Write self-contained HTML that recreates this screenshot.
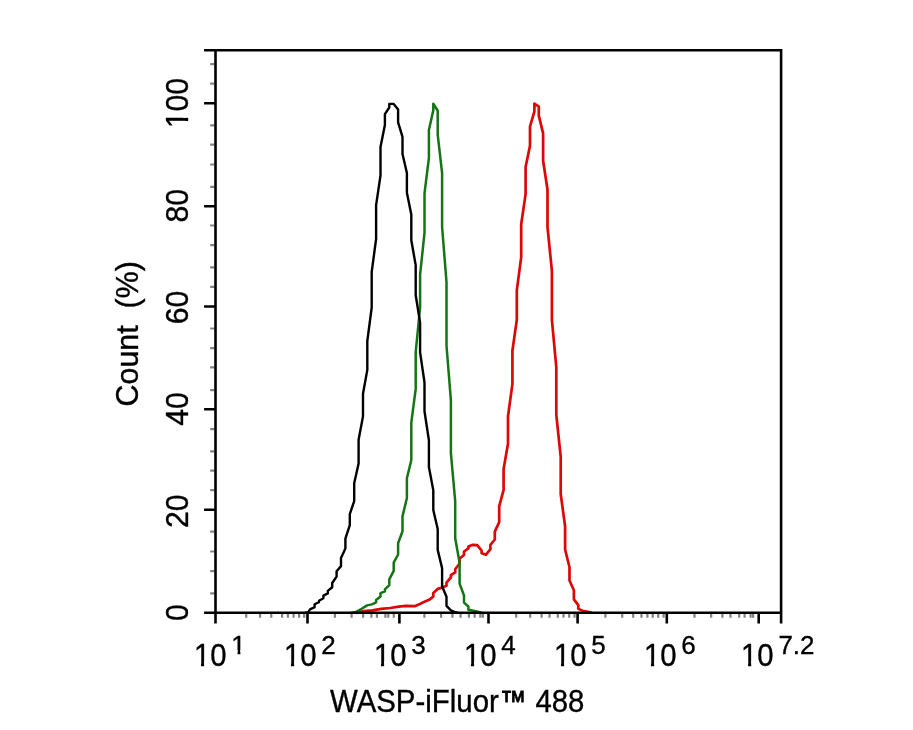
<!DOCTYPE html>
<html><head><meta charset="utf-8"><title>WASP-iFluor 488 histogram</title>
<style>html,body{margin:0;padding:0;background:#fff;width:913px;height:730px;overflow:hidden}svg{display:block;will-change:transform}text{font-family:"Liberation Sans",sans-serif}</style>
</head><body>
<svg width="913" height="730" viewBox="0 0 913 730">
<rect width="913" height="730" fill="#fff"/>
<polyline fill="none" stroke="#dc0808" stroke-width="2.7" stroke-linejoin="round" points="356.0,612.9 363.8,611.0 372.5,610.3 381.3,608.8 390.1,608.0 398.8,606.7 405.8,605.8 414.6,606.2 419.9,604.0 425.1,601.4 429.5,599.6 433.3,596.5 433.3,593.0 437.7,588.9 442.1,587.6 446.5,585.8 446.5,582.6 450.9,577.3 450.9,575.1 455.2,572.4 455.2,569.3 459.6,563.5 459.6,558.5 464.0,555.0 464.0,551.5 468.4,548.4 468.4,546.6 472.8,544.8 477.2,545.2 481.6,550.6 481.6,553.3 486.0,554.6 490.4,549.2 490.4,544.8 494.8,539.5 494.8,531.6 499.2,522.1 499.2,506.3 503.6,489.9 503.6,469.0 508.0,443.7 508.0,416.3 512.4,384.1 512.4,350.8 516.8,319.9 516.8,290.5 521.2,257.1 521.2,224.2 525.6,194.1 525.6,166.9 530.0,145.7 530.0,126.7 534.4,111.4 534.4,103.6 538.8,106.6 538.8,115.6 543.1,133.4 543.1,160.8 547.5,189.5 547.5,227.0 551.9,270.8 551.9,319.9 556.3,367.2 556.3,414.9 560.7,456.7 560.7,494.0 565.1,526.2 565.1,549.5 569.5,567.3 569.5,580.5 573.9,590.3 573.9,599.4 578.3,605.1 578.3,608.8 582.7,610.9 589.3,612.0 591.5,612.8"/>
<polyline fill="none" stroke="#157515" stroke-width="2.5" stroke-linejoin="round" points="351.0,612.9 356.5,611.6 361.6,608.8 367.1,605.4 371.9,604.4 376.1,602.3 376.1,599.9 380.5,596.5 380.5,593.1 384.9,591.4 384.9,589.3 389.3,585.2 389.3,579.4 393.7,570.9 393.7,562.7 398.1,554.5 398.1,543.2 402.5,531.3 402.5,516.4 406.9,498.0 406.9,478.3 411.3,460.0 411.3,422.6 415.7,389.0 415.7,352.0 420.1,307.5 420.1,274.7 424.5,232.9 424.5,193.4 428.9,158.0 428.9,130.0 433.3,110.2 433.3,103.7 437.7,110.5 437.7,134.7 442.1,173.1 442.1,227.0 446.5,282.2 446.5,345.5 450.9,400.3 450.9,453.3 455.2,501.2 455.2,538.2 459.6,562.9 459.6,583.6 464.0,595.5 464.0,602.6 468.4,606.5 468.4,609.7 474.6,611.0 479.8,612.3 482.0,612.8"/>
<polyline fill="none" stroke="#000" stroke-width="2.4" stroke-linejoin="round" points="305.0,612.9 308.2,612.3 310.0,609.3 314.6,607.1 314.6,604.3 319.0,602.1 319.0,600.8 323.4,598.3 323.4,595.6 327.8,593.4 327.8,590.9 332.2,587.3 332.2,583.0 336.6,576.6 336.6,571.3 341.0,566.1 341.0,557.9 345.4,548.6 345.4,538.7 349.8,525.1 349.8,514.1 354.2,501.1 354.2,483.2 358.6,463.5 358.6,439.7 363.0,416.4 363.0,393.8 367.3,369.9 367.3,341.1 371.7,307.5 371.7,271.9 376.1,239.0 376.1,205.1 380.5,175.5 380.5,147.1 384.9,125.0 384.9,114.1 389.3,107.5 389.3,103.9 393.7,103.9 398.1,109.4 398.1,122.3 402.5,136.8 402.5,153.9 406.9,173.1 406.9,192.8 411.3,214.4 411.3,240.3 415.7,265.1 415.7,295.2 420.1,322.6 420.1,352.3 424.5,382.5 424.5,411.2 428.9,440.3 428.9,467.0 433.3,490.3 433.3,510.1 437.7,529.1 437.7,549.9 442.1,568.1 442.1,586.3 446.5,596.7 446.5,605.8 450.9,610.4 455.2,612.3 458.0,612.8"/>
<path d="M246.2 613.9V617.8 M260.1 613.9V617.8 M271.3 613.9V617.8 M282.1 613.9V617.8 M287.9 613.9V617.8 M293.6 613.9V617.8 M299.1 613.9V617.8 M304.2 613.9V617.8 M334.9 613.9V617.8 M351.6 613.9V617.8 M363.1 613.9V617.8 M371.4 613.9V617.8 M376.9 613.9V617.8 M385.4 613.9V617.8 M388.3 613.9V617.8 M393.8 613.9V617.8 M424.4 613.9V617.8 M441.1 613.9V617.8 M452.4 613.9V617.8 M460.6 613.9V617.8 M468.9 613.9V617.8 M474.6 613.9V617.8 M480.3 613.9V617.8 M482.9 613.9V617.8 M516.2 613.9V617.8 M530.2 613.9V617.8 M541.6 613.9V617.8 M549.5 613.9V617.8 M557.8 613.9V617.8 M563.5 613.9V617.8 M569.2 613.9V617.8 M574.5 613.9V617.8 M605.4 613.9V617.8 M622.2 613.9V617.8 M633.2 613.9V617.8 M641.5 613.9V617.8 M647.4 613.9V617.8 M652.7 613.9V617.8 M658.2 613.9V617.8 M663.6 613.9V617.8 M694.5 613.9V617.8 M711.2 613.9V617.8 M722.4 613.9V617.8 M730.5 613.9V617.8 M739.2 613.9V617.8 M744.6 613.9V617.8 M750.6 613.9V617.8 M753.1 613.9V617.8 M210.2 64.1H214.2 M210.2 83.6H214.2 M210.2 125.4H214.2 M210.2 144.7H214.2 M210.2 164.5H214.2 M210.2 186.8H214.2 M210.2 225.5H214.2 M210.2 245.2H214.2 M210.2 267.4H214.2 M210.2 286.8H214.2 M210.2 328.5H214.2 M210.2 348.2H214.2 M210.2 367.4H214.2 M210.2 390.1H214.2 M210.2 429.1H214.2 M210.2 451.3H214.2 M210.2 470.7H214.2 M210.2 490.1H214.2 M210.2 531.7H214.2 M210.2 551.5H214.2 M210.2 571.1H214.2 M210.2 593.4H214.2" stroke="#838383" stroke-width="2.2" fill="none"/>
<path d="M204.1 50.3H781.1 M781.1 49.0V623.6 M204.1 612.7H781.1 M215.5 49.0V623.6" stroke="#000" stroke-width="2.6" fill="none"/>
<path d="M307.5 612.7V623.6 M399.4 612.7V623.6 M488.5 612.7V623.6 M577.6 612.7V623.6 M666.8 612.7V623.6 M758.7 612.7V623.6 M204.1 103.2H215.5 M204.1 206.3H215.5 M204.1 306.5H215.5 M204.1 409.3H215.5 M204.1 509.7H215.5" stroke="#000" stroke-width="2.6" fill="none"/>
<g transform="translate(187.60 103.16) rotate(-90) scale(1 1.02)"><text font-family="Liberation Sans" stroke="#000" stroke-width="0.35" font-size="30.2" text-anchor="middle" x="0" y="0">100</text><rect x="-23.87" y="-4.42" width="5.99" height="6.19" fill="#fff"/><rect x="-14.65" y="-4.42" width="5.82" height="6.19" fill="#fff"/></g>
<g transform="translate(187.60 205.77) rotate(-90) scale(1 1.02)"><text font-family="Liberation Sans" stroke="#000" stroke-width="0.35" font-size="30.2" text-anchor="middle" x="0" y="0">80</text></g>
<g transform="translate(187.60 307.48) rotate(-90) scale(1 1.02)"><text font-family="Liberation Sans" stroke="#000" stroke-width="0.35" font-size="30.2" text-anchor="middle" x="0" y="0">60</text></g>
<g transform="translate(187.60 409.06) rotate(-90) scale(1 1.02)"><text font-family="Liberation Sans" stroke="#000" stroke-width="0.35" font-size="30.2" text-anchor="middle" x="0" y="0">40</text></g>
<g transform="translate(187.60 511.17) rotate(-90) scale(1 1.02)"><text font-family="Liberation Sans" stroke="#000" stroke-width="0.35" font-size="30.2" text-anchor="middle" x="0" y="0">20</text></g>
<g transform="translate(187.60 612.60) rotate(-90) scale(1 1.02)"><text font-family="Liberation Sans" stroke="#000" stroke-width="0.35" font-size="30.2" text-anchor="middle" x="0" y="0">0</text></g>
<g transform="translate(193.88 665.80) scale(1 1.04)"><text font-family="Liberation Sans" stroke="#000" stroke-width="0.35" font-size="29.3" x="0" y="0">10</text><rect x="1.29" y="-4.29" width="5.81" height="6.01" fill="#fff"/><rect x="10.23" y="-4.29" width="5.65" height="6.01" fill="#fff"/></g>
<g transform="translate(231.28 653.90) scale(1 0.99)"><text font-family="Liberation Sans" stroke="#000" stroke-width="0.35" font-size="26.0" x="0" y="0">1</text><rect x="1.14" y="-3.81" width="5.15" height="5.33" fill="#fff"/><rect x="9.08" y="-3.81" width="5.01" height="5.33" fill="#fff"/></g>
<g transform="translate(283.88 665.80) scale(1 1.04)"><text font-family="Liberation Sans" stroke="#000" stroke-width="0.35" font-size="29.3" x="0" y="0">10</text><rect x="1.29" y="-4.29" width="5.81" height="6.01" fill="#fff"/><rect x="10.23" y="-4.29" width="5.65" height="6.01" fill="#fff"/></g>
<g transform="translate(321.28 653.90) scale(1 0.99)"><text font-family="Liberation Sans" stroke="#000" stroke-width="0.35" font-size="26.0" x="0" y="0">2</text></g>
<g transform="translate(373.88 665.80) scale(1 1.04)"><text font-family="Liberation Sans" stroke="#000" stroke-width="0.35" font-size="29.3" x="0" y="0">10</text><rect x="1.29" y="-4.29" width="5.81" height="6.01" fill="#fff"/><rect x="10.23" y="-4.29" width="5.65" height="6.01" fill="#fff"/></g>
<g transform="translate(411.28 653.90) scale(1 0.99)"><text font-family="Liberation Sans" stroke="#000" stroke-width="0.35" font-size="26.0" x="0" y="0">3</text></g>
<g transform="translate(463.88 665.80) scale(1 1.04)"><text font-family="Liberation Sans" stroke="#000" stroke-width="0.35" font-size="29.3" x="0" y="0">10</text><rect x="1.29" y="-4.29" width="5.81" height="6.01" fill="#fff"/><rect x="10.23" y="-4.29" width="5.65" height="6.01" fill="#fff"/></g>
<g transform="translate(501.28 653.90) scale(1 0.99)"><text font-family="Liberation Sans" stroke="#000" stroke-width="0.35" font-size="26.0" x="0" y="0">4</text></g>
<g transform="translate(553.88 665.80) scale(1 1.04)"><text font-family="Liberation Sans" stroke="#000" stroke-width="0.35" font-size="29.3" x="0" y="0">10</text><rect x="1.29" y="-4.29" width="5.81" height="6.01" fill="#fff"/><rect x="10.23" y="-4.29" width="5.65" height="6.01" fill="#fff"/></g>
<g transform="translate(591.28 653.90) scale(1 0.99)"><text font-family="Liberation Sans" stroke="#000" stroke-width="0.35" font-size="26.0" x="0" y="0">5</text></g>
<g transform="translate(643.88 665.80) scale(1 1.04)"><text font-family="Liberation Sans" stroke="#000" stroke-width="0.35" font-size="29.3" x="0" y="0">10</text><rect x="1.29" y="-4.29" width="5.81" height="6.01" fill="#fff"/><rect x="10.23" y="-4.29" width="5.65" height="6.01" fill="#fff"/></g>
<g transform="translate(681.28 653.90) scale(1 0.99)"><text font-family="Liberation Sans" stroke="#000" stroke-width="0.35" font-size="26.0" x="0" y="0">6</text></g>
<g transform="translate(740.98 665.80) scale(1 1.04)"><text font-family="Liberation Sans" stroke="#000" stroke-width="0.35" font-size="29.3" x="0" y="0">10</text><rect x="1.29" y="-4.29" width="5.81" height="6.01" fill="#fff"/><rect x="10.23" y="-4.29" width="5.65" height="6.01" fill="#fff"/></g>
<g transform="translate(778.38 653.90) scale(1 0.99)"><text font-family="Liberation Sans" stroke="#000" stroke-width="0.35" font-size="26.0" x="0" y="0">7.2</text></g>
<g transform="translate(329.97 711.7) scale(1.004 1.047)"><text font-family="Liberation Sans" stroke="#000" stroke-width="0.35" font-size="29.3" x="0" y="0">WASP-iFluor</text></g>
<g transform="translate(500.0 710.5) scale(0.9 1.0)"><text font-family="Liberation Sans" stroke="#000" stroke-width="0.9" font-size="29.15" x="0" y="0">™</text></g>
<g transform="translate(535.43 711.7) scale(1 1.047)"><text font-family="Liberation Sans" stroke="#000" stroke-width="0.35" font-size="29.3" x="0" y="0">488</text></g>
<g transform="translate(138.1 406.4) rotate(-90) scale(1 1.025)"><text font-family="Liberation Sans" stroke="#000" stroke-width="0.35" font-size="30.4" xml:space="preserve" style="white-space:pre" x="0" y="0">Count  (%)</text></g>
</svg>
</body></html>
